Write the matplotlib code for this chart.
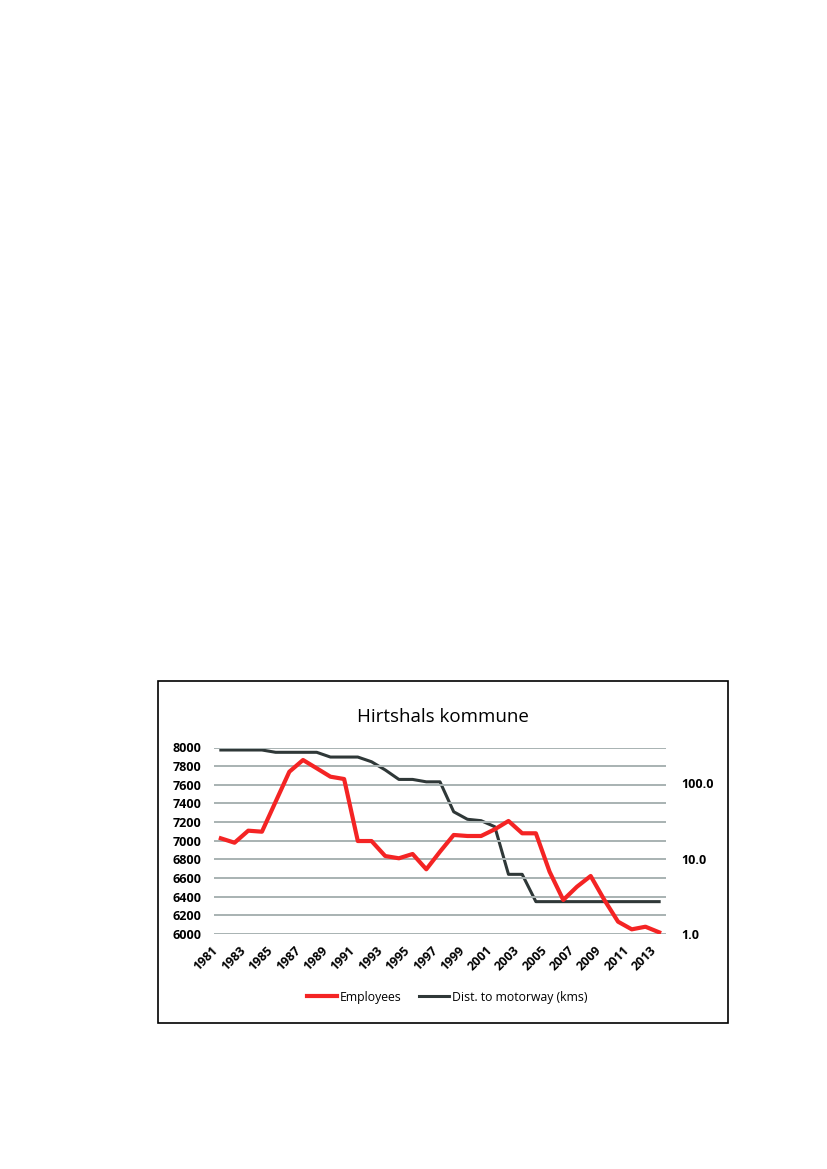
"""
Hirtshals kommune: employees vs. distance to motorway.
"""

import matplotlib.pyplot as plt
from matplotlib.patches import Rectangle

years = list(range(1981, 2014))

employees = [
    7026, 6979, 7108, 7097, 7419, 7740, 7866, 7777, 7687, 7662,
    6997, 6997, 6836, 6812, 6858, 6694, 6883, 7062, 7051, 7051,
    7123, 7212, 7080, 7080, 6668, 6365, 6507, 6622, 6365, 6132,
    6050, 6078, 6018,
]

dist_km = [
    278, 278, 278, 278, 259, 259, 259, 259, 224, 224,
    224, 194, 151, 113, 113, 105, 105, 42, 33.4, 32,
    26.6, 6.2, 6.2, 2.69, 2.69, 2.69, 2.69, 2.69, 2.69, 2.69,
    2.69, 2.69, 2.69,
]

left_ticks = list(range(6000, 8001, 200))
right_ticks = [1, 10, 100]
right_labels = ["1.0", "10.0", "100.0"]

W, H = 827, 1169
RED = "#f42424"
DARK = "#2f3838"
GRID = "#a8b2b2"

plt.rcParams["font.family"] = ["Open Sans", "DejaVu Sans"]

fig = plt.figure(figsize=(W / 100, H / 100), dpi=100)

# chart frame
fig.patches.append(Rectangle((158 / W, 1 - 1023 / H), 570 / W, 342 / H,
                             transform=fig.transFigure, fill=False,
                             edgecolor="black", linewidth=1.2))

ax = fig.add_axes([214 / W, 1 - 934 / H, 452 / W, 186.5 / H])
x = list(range(len(years)))

ax.set_ylim(6000, 8000)
ax.set_yticks(left_ticks)
ax.set_xlim(-0.5, len(years) - 0.5)
for t in left_ticks:
    ax.axhline(t, color=GRID, linewidth=1.4, zorder=0)

ax2 = ax.twinx()
ax2.set_yscale("log")
ax2.set_ylim(1, 300)
ax2.set_yticks(right_ticks)
ax2.set_yticklabels(right_labels)
ax2.minorticks_off()

emp_line, = ax.plot(x, employees, color=RED, linewidth=3.0, zorder=3,
                    label="Employees")
dist_line, = ax2.plot(x, dist_km, color=DARK, linewidth=2.2, zorder=2,
                      label="Dist. to motorway (kms)")
# red line drawn above the dark one
ax.set_zorder(ax2.get_zorder() + 1)
ax.patch.set_visible(False)

ax.set_xticks(x[::2])
ax.set_xticklabels([str(y) for y in years[::2]], rotation=45, ha="right",
                   fontsize=9, fontweight="bold")
ax.tick_params(axis="x", length=0, pad=7)
ax.tick_params(axis="y", length=0, pad=9, labelsize=9)
for lab in ax.get_yticklabels():
    lab.set_fontweight("bold")
ax2.tick_params(axis="y", length=0, pad=11, labelsize=9)
for lab in ax2.get_yticklabels():
    lab.set_fontweight("bold")

for a in (ax, ax2):
    for s in a.spines.values():
        s.set_visible(False)

fig.text(443 / W, 1 - 717 / H, "Hirtshals kommune", ha="center",
         va="center", fontsize=13.5)

fig.legend(handles=[emp_line, dist_line], loc="center",
           bbox_to_anchor=(447 / W, 1 - 997 / H), ncol=2, frameon=False,
           fontsize=8.8, handlelength=2.5, handletextpad=0.2,
           columnspacing=1.4)

plt.savefig("out.png", dpi=100)
